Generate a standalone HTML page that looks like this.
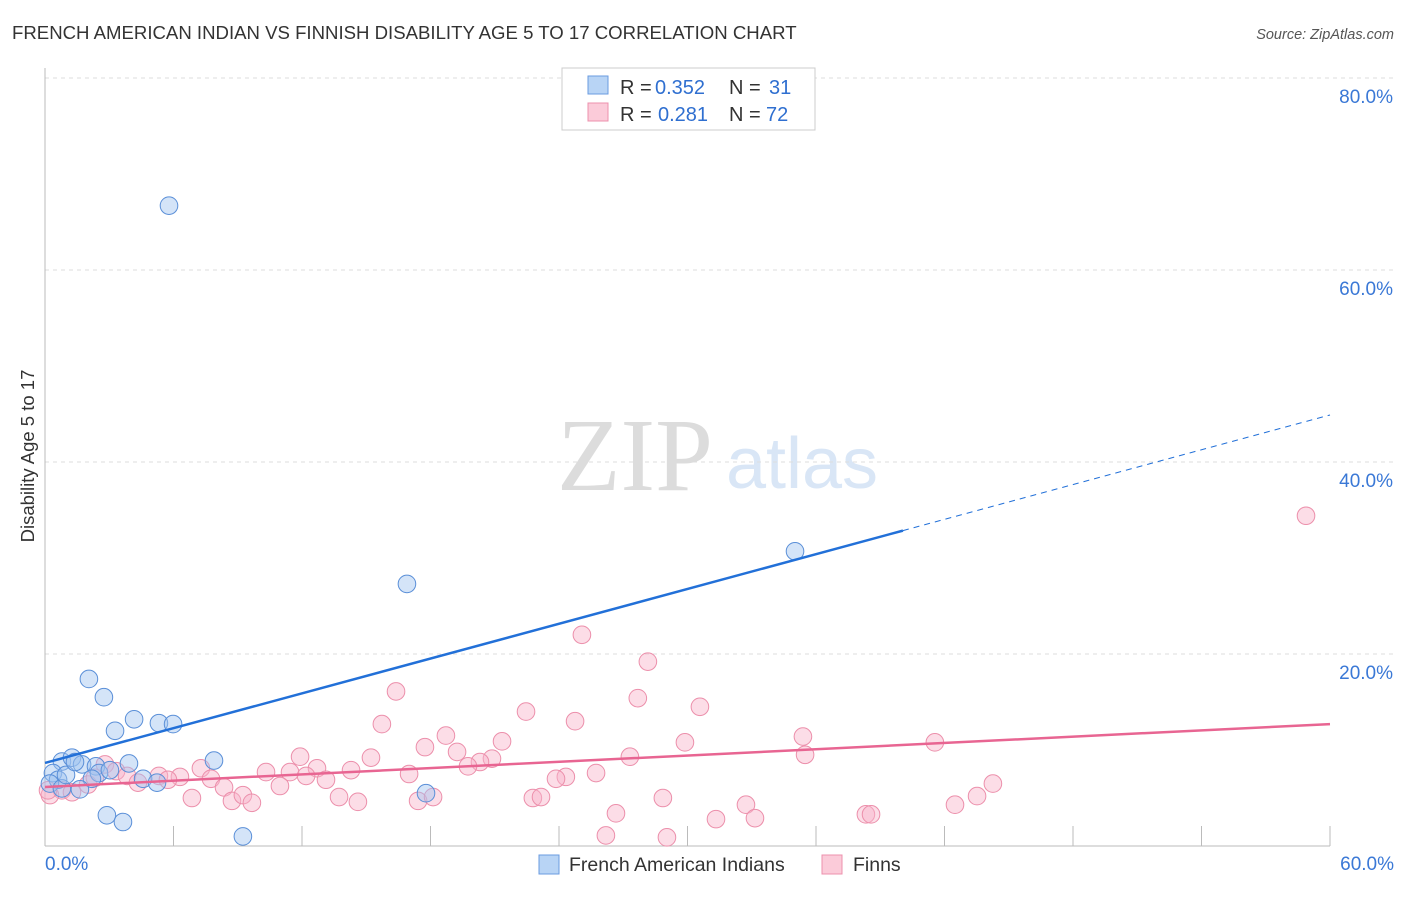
<!DOCTYPE html>
<html><head><meta charset="utf-8"><style>
body{margin:0;background:#fff;font-family:"Liberation Sans",sans-serif}
</style></head><body>
<svg id="chart" width="1406" height="892" xmlns="http://www.w3.org/2000/svg">
<text x="12" y="39" font-size="18.6" fill="#333">FRENCH AMERICAN INDIAN VS FINNISH DISABILITY AGE 5 TO 17 CORRELATION CHART</text>
<text x="1394" y="39" font-size="14.5" fill="#555" font-style="italic" text-anchor="end">Source: ZipAtlas.com</text>
<text x="635" y="490" font-size="104" fill="#dcdcdc" font-family="Liberation Serif,serif" text-anchor="middle">ZIP</text>
<text x="802" y="488" font-size="72" fill="#d9e6f6" text-anchor="middle">atlas</text>
<g id="grid"></g><g id="axes"></g>
<text transform="translate(34,456) rotate(-90)" font-size="18.5" fill="#333" text-anchor="middle">Disability Age 5 to 17</text>
<g id="pts"></g><g id="lines"></g>
<g>
<rect x="562" y="68" width="253" height="62" fill="#fff" stroke="#ccc"/>
<rect x="588" y="76" width="20" height="18" fill="#b8d4f5" stroke="#6a9be0"/>
<rect x="588" y="103" width="20" height="18" fill="#fbcbd9" stroke="#ec90ad"/>
<g font-size="20" fill="#333">
<text x="620" y="94">R =</text><text x="655" y="94" fill="#2f6fd0">0.352</text><text x="729" y="94">N =</text><text x="769" y="94" fill="#2f6fd0">31</text></g>
<g font-size="20" fill="#333">
<text x="620" y="121">R =</text><text x="658" y="121" fill="#2f6fd0">0.281</text><text x="729" y="121">N =</text><text x="766" y="121" fill="#2f6fd0">72</text></g>
</g>
<g>
<rect x="539" y="855" width="20" height="19" fill="#b8d4f5" stroke="#6a9be0"/>
<text x="569" y="871" font-size="19.5" fill="#333">French American Indians</text>
<rect x="822" y="855" width="20" height="19" fill="#fbcbd9" stroke="#ec90ad"/>
<text x="853" y="871" font-size="19.5" fill="#333">Finns</text>
</g>
</svg>
<script>
const yTicks=[20,40,60,80];
const xTickLabels=["0.0%","60.0%"];
const blueX=[5.79,16.9,35.02,2.05,2.75,4.16,3.27,5.32,5.98,7.89,3.92,0.79,1.26,1.73,2.38,2.52,2.19,0.37,0.61,0.23,0.79,1.63,4.58,5.23,2.89,3.64,9.24,17.79,0.98,1.4,3.03];
const blueY=[66.7,27.3,30.7,17.4,15.5,13.2,12.0,12.8,12.7,8.9,8.6,8.8,9.2,8.5,8.3,7.6,7.0,7.6,6.9,6.5,6.0,5.9,7.0,6.6,3.2,2.5,1.0,5.5,7.4,8.75,7.9];
const pinkX=[58.88,25.07,28.15,16.39,27.68,30.58,22.46,24.75,15.73,18.72,35.39,41.55,29.88,21.34,17.74,19.24,11.91,15.22,20.87,20.31,27.31,35.49,19.75,12.7,14.29,17.0,11.44,10.32,12.19,13.12,25.73,24.32,23.86,5.32,6.3,7.28,7.75,2.8,3.32,3.83,4.34,5.74,8.36,10.97,44.26,43.52,42.49,6.86,8.73,9.24,9.66,13.73,14.61,17.42,18.12,22.78,23.16,28.85,32.73,33.15,31.33,38.33,38.57,26.66,26.19,29.04,0.79,1.26,2.01,0.23,2.33,0.14];
const pinkY=[34.4,22.0,19.2,16.1,15.4,14.5,14.0,13.0,12.7,11.5,11.4,10.8,10.8,10.9,10.3,9.8,9.3,9.2,9.1,8.75,9.3,9.5,8.3,8.1,7.9,7.5,7.7,7.7,7.3,6.9,7.6,7.2,7.0,7.3,7.2,8.1,7.0,8.5,7.8,7.3,6.6,6.9,6.1,6.25,6.5,5.2,4.3,5.0,4.7,5.3,4.5,5.1,4.6,4.7,5.1,5.0,5.1,5.0,4.3,2.9,2.8,3.3,3.3,3.4,1.1,0.9,5.8,5.6,6.4,5.3,7.1,5.8];
const blueTrend=[8.65,44.9]; const blueSolidEnd=40.06;
const pinkTrend=[6.15,12.7];
const X=v=>45+v/60*1285, Y=v=>846-v*9.6;
const NS="http://www.w3.org/2000/svg";
function mk(p,t,a){const e=document.createElementNS(NS,t);for(const k in a)e.setAttribute(k,a[k]);document.getElementById(p).appendChild(e);return e;}
yTicks.forEach(t=>{
 const l=mk('grid','line',{x1:45,x2:1393,y1:Y(t),y2:Y(t),stroke:'#ddd','stroke-dasharray':'4,4'});
 
 
 const tx=mk('grid','text',{x:1393,y:Y(t)+25,'font-size':19,fill:'#3a78d6','text-anchor':'end'});
 tx.textContent=t.toFixed(1)+'%';
 
 
});
mk('axes','line',{x1:45,x2:45,y1:68,y2:846,stroke:'#bbb'});
mk('axes','line',{x1:45,x2:1330,y1:846,y2:846,stroke:'#bbb'});
for(let i=0;i<=10;i++){const t=mk('axes','line',{x1:X(i*6),x2:X(i*6),y1:826,y2:846,stroke:'#bbb'});
 
 }
[[0,'start',45],[60,'end',1394]].forEach((d,i)=>{const t=mk('axes','text',{x:d[2],y:870,'font-size':19,fill:'#3a78d6','text-anchor':d[1]});t.textContent=xTickLabels[i];
 
 });
pinkX.forEach((x,i)=>{const c=mk('pts','circle',{cx:X(x),cy:Y(pinkY[i]),r:8.8,fill:'rgba(248,180,202,0.45)',stroke:'#ec8fab','stroke-width':1});
 
 });
blueX.forEach((x,i)=>{const c=mk('pts','circle',{cx:X(x),cy:Y(blueY[i]),r:8.8,fill:'rgba(160,196,240,0.45)',stroke:'#5a8fd8','stroke-width':1});
 
 });
const by=x=>blueTrend[0]+(blueTrend[1]-blueTrend[0])*x/60;
let l=mk('lines','line',{x1:X(0),y1:Y(by(0)),x2:X(blueSolidEnd),y2:Y(by(blueSolidEnd)),stroke:'#2270d8','stroke-width':2.5});


l=mk('lines','line',{x1:X(blueSolidEnd),y1:Y(by(blueSolidEnd)),x2:X(60),y2:Y(by(60)),stroke:'#2270d8','stroke-width':1,'stroke-dasharray':'6,5'});


l=mk('lines','line',{x1:X(0),y1:Y(pinkTrend[0]),x2:X(60),y2:Y(pinkTrend[1]),stroke:'#e86592','stroke-width':2.5});


</script>
</body></html>
